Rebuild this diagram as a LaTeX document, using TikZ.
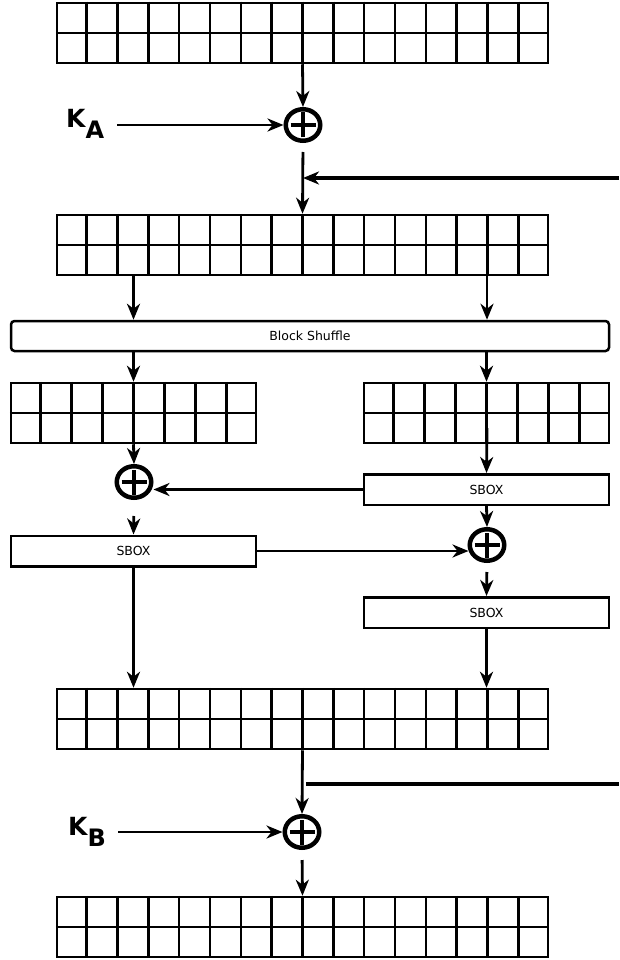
\documentclass[tikz,border=0pt]{standalone}
\usepackage{fontspec}
\setmainfont{DejaVu Sans}
\usetikzlibrary{arrows.meta,calc,shapes.geometric}
\newcommand{\cellgrid}[2]{%
  \draw[gridline] (#1.west) -- (#1.east);
  \pgfmathtruncatemacro{\ncm}{#2-1}%
  \foreach \i in {1,...,\ncm} {
    \draw[gridline] ($(#1.north west)!\i/#2!(#1.north east)$) -- ($(#1.south west)!\i/#2!(#1.south east)$);
  }}
\begin{document}
\begin{tikzpicture}[x=1pt,y=-1pt,
  gridline/.style={line width=2.5pt},
  bigrid/.style={draw, line width=2.5pt, minimum width=491pt, minimum height=60pt, inner sep=0pt},
  smgrid/.style={draw, line width=2.5pt, minimum width=245pt, minimum height=60pt, inner sep=0pt},
  sbox/.style={draw, line width=2.5pt, minimum width=245pt, minimum height=30.5pt, inner sep=0pt, font=\fontsize{12.5}{14}\selectfont},
  shuffle/.style={draw, line width=2.5pt, rounded corners=3.5pt, minimum width=598pt, minimum height=30pt, inner sep=0pt, font=\fontsize{12.5}{14}\selectfont},
  xor/.style={ellipse, draw, line width=4.5pt, minimum width=34.5pt, minimum height=31.5pt, inner sep=0pt,
    path picture={\draw[line width=4.8pt]
      ([xshift=-12.5pt]path picture bounding box.center) -- ([xshift=12.5pt]path picture bounding box.center)
      ([yshift=-12.5pt]path picture bounding box.center) -- ([yshift=12.5pt]path picture bounding box.center);}},
  arr/.style={line width=2.8pt, -{Stealth[length=16pt,width=13pt,inset=5pt]}},
  feed/.style={line width=3.3pt},
  keylab/.style={anchor=base west, inner sep=0pt, font=\bfseries}
]
\useasboundingbox (0,0) rectangle (619,960);

% grids
\node[bigrid] (g1) at (302.5,33) {};
\node[bigrid] (g2) at (302.5,245) {};
\node[smgrid] (g3l) at (133.5,413) {};
\node[smgrid] (g3r) at (486.5,413) {};
\node[bigrid] (g4) at (302.5,719) {};
\node[bigrid] (g5) at (302.5,927) {};
\cellgrid{g1}{16}
\cellgrid{g2}{16}
\cellgrid{g3l}{8}
\cellgrid{g3r}{8}
\cellgrid{g4}{16}
\cellgrid{g5}{16}

% xors
\node[xor] (xa) at (303,125) {};
\node[xor] (xl) at (134,482) {};
\node[xor] (xr) at (487,545) {};
\node[xor] (xb) at (302,832) {};

% boxes
\node[shuffle] (bs) at (310,336) {Block Shuffle};
\node[sbox] (s1) at (486.5,489.5) {SBOX};
\node[sbox] (sl) at (133.5,551) {SBOX};
\node[sbox] (s2) at (486.5,612.5) {SBOX};

% key labels
\node[keylab] (ka) at (66,128) {\fontsize{25}{27}\selectfont K\raisebox{-11pt}{\fontsize{24}{26}\selectfont A}};
\node[keylab] (kb) at (68,835) {\fontsize{25}{27}\selectfont K\raisebox{-11pt}{\fontsize{24}{26}\selectfont B}};

% free ends
\coordinate (kas) at (117,125);
\coordinate (kbs) at (118,832);
\coordinate (fa) at (619,178);
\coordinate (fb1) at (306,784);
\coordinate (fb2) at (619,784);
\coordinate (g2r) at (487,262);
\coordinate (g3rr) at (487,428);

% connectors
\draw[arr] (g1.south) -- (xa.north);
\draw[arr] (kas) -- (xa.west);
\draw[arr, shorten <=9pt] (xa.south) -- (g2.north);
\draw[arr, line width=3.3pt] (fa) -- (fa -| xa.center);

\draw[arr] (g2.south -| g3l.center) -- (bs.north -| g3l.center);
\draw[arr] (g2r) -- (bs.north -| g2r);
\draw[arr] (bs.south -| g3l.center) -- (g3l.north);
\draw[arr] (bs.south -| g3r.center) -- (g3r.north);

\draw[arr] (g3l.south) -- (xl.north);
\draw[arr] (s1.west) -- (s1.west -| xl.east);
\draw[arr, shorten <=16pt] (xl.south) -- (sl.north);
\draw[arr] (sl.east) -- ($(sl.east -| xr.west)+(1,0)$);

\draw[arr] (g3rr) -- (s1.north);
\draw[arr] (s1.south) -- (xr.north);
\draw[arr, shorten <=9pt] (xr.south) -- (s2.north);
\draw[arr] (s2.south) -- (s2.south |- g4.north);
\draw[arr] (sl.south) -- (sl.south |- g4.north);

\draw[arr] (g4.south) -- (xb.north);
\draw[feed] (fb1) -- (fb2);
\draw[arr] (kbs) -- (xb.west);
\draw[arr, shorten <=10pt] (xb.south) -- (g5.north);
\end{tikzpicture}
\end{document}
